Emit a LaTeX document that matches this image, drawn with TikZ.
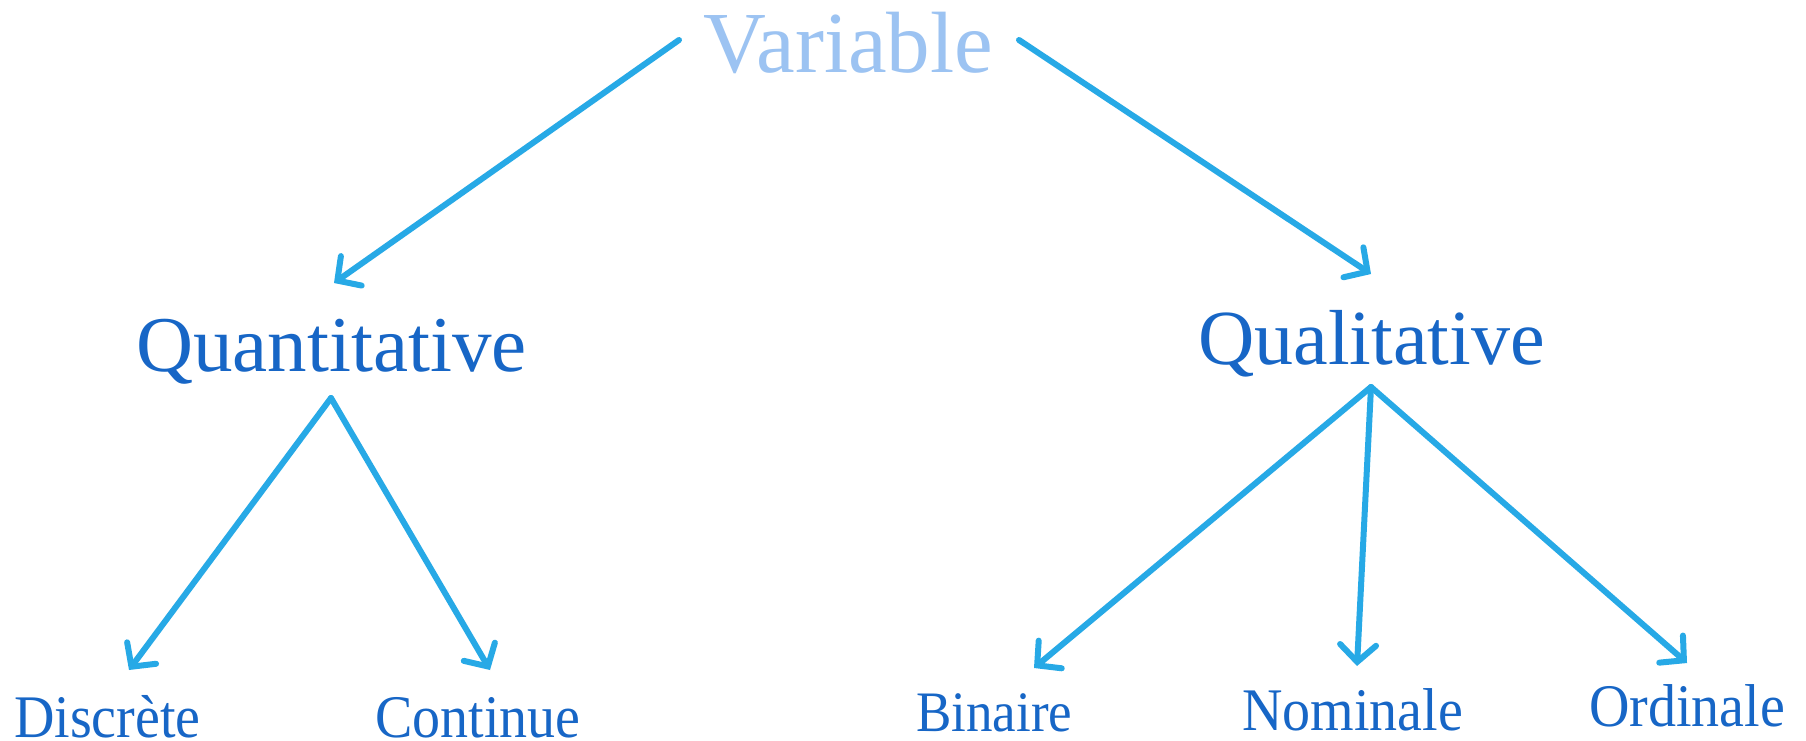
\documentclass[tikz,border=0pt]{standalone}
\usepackage{fontspec}
\setmainfont{Liberation Serif}
\usetikzlibrary{arrows.meta}
\definecolor{varblue}{HTML}{9CC3F2}
\definecolor{txtblue}{HTML}{1766C6}
\definecolor{arrblue}{HTML}{27A9E6}
\tikzset{
  lbl/.style={anchor=base west, inner sep=0pt, text=txtblue},
  conn/.style={draw=arrblue, line width=6pt, line cap=round,
    -{Straight Barb[length=17pt,width=36pt,line width=6pt,line cap=round]}},
}
\begin{document}
\begin{tikzpicture}[x=1pt,y=-1pt]
\useasboundingbox[fill=white] (0,0) rectangle (1806,741);
% nodes
\node[lbl, text=varblue, font=\fontsize{87}{90}\selectfont] (var) at (703,73) {Variable};
\node[lbl, font=\fontsize{79}{84}\selectfont] (quant) at (136,371) {Quantitative};
\node[lbl, font=\fontsize{78}{84}\selectfont] (qual) at (1198,364) {Qualitative};
\node[lbl, font=\fontsize{56}{60}\selectfont] (disc) at (14,737) {\scalebox{1}[1.08]{Discrète}};
\node[lbl, font=\fontsize{56}{60}\selectfont] (cont) at (375,737) {\scalebox{1}[1.08]{Continue}};
\node[lbl, font=\fontsize{53}{60}\selectfont] (bin) at (916,731) {\scalebox{1}[1.08]{Binaire}};
\node[lbl, font=\fontsize{56}{60}\selectfont] (nom) at (1242,730) {\scalebox{1}[1.08]{Nominale}};
\node[lbl, font=\fontsize{56}{60}\selectfont] (ord) at (1589,726) {\scalebox{1}[1.08]{Ordinale}};
% connector end points
\coordinate (varL) at (679,40);
\coordinate (varR) at (1019,40);
\coordinate (quantIn) at (334,283);
\coordinate (qualIn) at (1371,274);
\coordinate (quantOut) at (331,398);
\coordinate (qualOut) at (1371,387);
\coordinate (discIn) at (129,670);
\coordinate (contIn) at (490,670);
\coordinate (binIn) at (1034,668);
\coordinate (nomIn) at (1357,666);
\coordinate (ordIn) at (1687,663);
% connectors
\draw[conn] (varL) -- (quantIn);
\draw[conn] (varR) -- (qualIn);
\draw[conn] (quantOut) -- (discIn);
\draw[conn] (quantOut) -- (contIn);
\draw[conn] (qualOut) -- (binIn);
\draw[conn] (qualOut) -- (nomIn);
\draw[conn] (qualOut) -- (ordIn);
\end{tikzpicture}
\end{document}
